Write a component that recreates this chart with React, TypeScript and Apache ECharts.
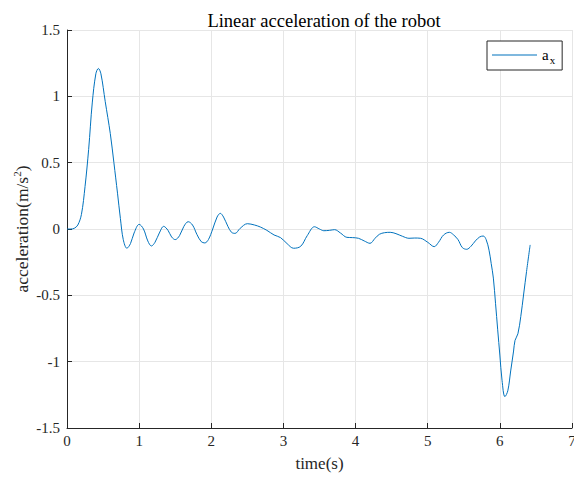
import { useEffect, useRef } from "react";
import * as echarts from "echarts";

// Sample times (s) and the measured x-axis linear acceleration (m/s^2)
const times = [
  0, 0.05, 0.1, 0.15, 0.2, 0.25, 0.3, 0.35, 0.4, 0.435, 0.47, 0.53, 0.6, 0.65, 0.7, 0.74, 0.78, 0.83,
  0.88, 0.93, 1.0, 1.06, 1.12, 1.17, 1.22, 1.28, 1.34, 1.4, 1.45, 1.5, 1.56, 1.62, 1.68, 1.74, 1.8,
  1.86, 1.91, 1.96, 2.02, 2.08, 2.125, 2.17, 2.23, 2.28, 2.33, 2.4, 2.5, 2.6, 2.68, 2.77, 2.87, 2.96,
  3.05, 3.14, 3.24, 3.33, 3.43, 3.5, 3.56, 3.64, 3.71, 3.79, 3.88, 3.96, 4.04, 4.12, 4.2, 4.27, 4.33,
  4.4, 4.48, 4.56, 4.65, 4.74, 4.82, 4.9, 5.0, 5.09, 5.15, 5.22, 5.3, 5.36, 5.42, 5.48, 5.54, 5.6,
  5.66, 5.72, 5.77, 5.81, 5.85, 5.88, 5.91, 5.94, 5.97, 6.0, 6.03, 6.07, 6.11, 6.15, 6.19, 6.21, 6.25,
  6.29, 6.33, 6.37, 6.42,
];
const accelX = [
  0, 0, 0.005, 0.03, 0.11, 0.32, 0.6, 0.95, 1.17, 1.21, 1.17, 0.96, 0.72, 0.5, 0.27, 0.08, -0.08,
  -0.145, -0.11, -0.03, 0.035, 0.0, -0.09, -0.128, -0.1, -0.03, 0.02, -0.01, -0.06, -0.08, -0.05,
  0.02, 0.055, 0.03, -0.04, -0.095, -0.105, -0.08, 0.0, 0.09, 0.118, 0.09, 0.02, -0.025, -0.033,
  0.005, 0.04, 0.03, 0.015, -0.01, -0.045, -0.065, -0.11, -0.145, -0.13, -0.05, 0.017, 0.0, -0.013,
  -0.01, -0.005, -0.03, -0.063, -0.065, -0.07, -0.09, -0.108, -0.07, -0.04, -0.028, -0.025, -0.035,
  -0.055, -0.07, -0.068, -0.07, -0.1, -0.133, -0.1, -0.045, -0.025, -0.045, -0.08, -0.14, -0.153,
  -0.13, -0.09, -0.06, -0.053, -0.08, -0.16, -0.26, -0.37, -0.56, -0.76, -0.95, -1.14, -1.264,
  -1.22, -1.07, -0.92, -0.84, -0.79, -0.66, -0.49, -0.32, -0.12,
];

const xTicks = { min: 0, max: 7, interval: 1 };
const yTicks = { min: -1.5, max: 1.5, interval: 0.5 };

const FONT = "'Liberation Serif', 'Times New Roman', serif";
const AXIS_COLOR = "#262626";
const GRID_COLOR = "#e6e6e6";
const LINE_COLOR = "#0072BD";

export default function App() {
  const ref = useRef<HTMLDivElement>(null);

  useEffect(() => {
    if (!ref.current) return;
    const chart = echarts.init(ref.current, null, { renderer: "svg" });
    chart.setOption({
      animation: false,
      backgroundColor: "#ffffff",
      textStyle: { fontFamily: FONT, color: AXIS_COLOR },
      title: {
        text: "Linear acceleration of the robot",
        left: 319,
        textAlign: "center",
        top: 6,
        textStyle: { fontFamily: FONT, fontSize: 18.5, fontWeight: "normal", color: "#000" },
      },
      legend: {
        left: 487,
        top: 41,
        orient: "vertical",
        icon: "rect",
        backgroundColor: "#fff",
        borderColor: AXIS_COLOR,
        borderWidth: 1,
        borderRadius: 0,
        padding: [4, 7, 5, 5],
        itemWidth: 45,
        itemHeight: 1,
        formatter: () => "a{sub|x}",
        textStyle: {
          fontFamily: FONT,
          fontSize: 15,
          lineHeight: 20,
          color: "#000",
          rich: {
            sub: {
              fontFamily: FONT,
              fontSize: 11,
              lineHeight: 20,
              color: "#000",
              verticalAlign: "bottom",
              padding: [8, 0, 0, 1],
            },
          },
        },
      },
      grid: { left: 67, right: 2, top: 30, bottom: 49, outerBoundsMode: "none", containLabel: false },
      xAxis: {
        type: "value",
        ...xTicks,
        name: "time(s)",
        nameLocation: "middle",
        nameGap: 27,
        nameTextStyle: { fontFamily: FONT, fontSize: 17, color: AXIS_COLOR },
        axisLine: { show: true, onZero: false, lineStyle: { color: AXIS_COLOR, width: 1 } },
        axisTick: { show: true, inside: true, length: 5, lineStyle: { color: AXIS_COLOR } },
        axisLabel: { fontFamily: FONT, fontSize: 15, color: AXIS_COLOR, margin: 5 },
        splitLine: { show: true, lineStyle: { color: GRID_COLOR, width: 1 } },
      },
      yAxis: {
        type: "value",
        ...yTicks,
        name: "acceleration(m/s{sup|2})",
        nameLocation: "middle",
        nameGap: 34,
        nameMoveOverlap: false,
        nameTextStyle: {
          fontFamily: FONT,
          fontSize: 17.5,
          color: AXIS_COLOR,
          rich: {
            sup: { fontFamily: FONT, fontSize: 11, color: AXIS_COLOR, verticalAlign: "top", lineHeight: 22 },
          },
        },
        axisLine: { show: true, onZero: false, lineStyle: { color: AXIS_COLOR, width: 1 } },
        axisTick: { show: true, inside: true, length: 5, lineStyle: { color: AXIS_COLOR } },
        axisLabel: { fontFamily: FONT, fontSize: 15, color: AXIS_COLOR, margin: 7 },
        splitLine: { show: true, lineStyle: { color: GRID_COLOR, width: 1 } },
      },
      series: [
        {
          name: "a_x",
          type: "line",
          data: times.map((t, i) => [t, accelX[i]]),
          smooth: 0.35,
          symbol: "none",
          lineStyle: { color: LINE_COLOR, width: 1 },
          itemStyle: { color: LINE_COLOR },
        },
      ],
    });
    return () => chart.dispose();
  }, []);

  return (
    <div
      ref={ref}
      style={{ position: "fixed", left: 0, top: 0, width: 574, height: 477 }}
    />
  );
}
